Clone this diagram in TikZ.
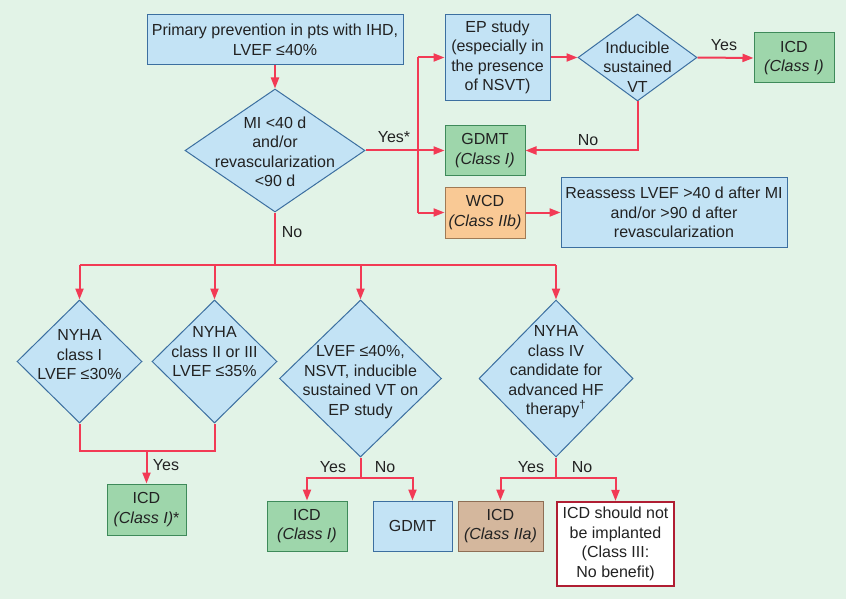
\documentclass[tikz,border=0pt]{standalone}
\usepackage{fontspec}
\setmainfont{Liberation Sans}
\usetikzlibrary{shapes.geometric,arrows.meta}
\definecolor{bgc}{HTML}{E2F3E7}
\definecolor{bluef}{HTML}{C3E3F5}
\definecolor{blued}{HTML}{3C6FA0}
\definecolor{greenf}{HTML}{9ED6AB}
\definecolor{greend}{HTML}{3E8A5A}
\definecolor{orangef}{HTML}{F9C995}
\definecolor{oranged}{HTML}{A07A55}
\definecolor{tanf}{HTML}{D4B79D}
\definecolor{tand}{HTML}{8E6E55}
\definecolor{redl}{HTML}{F23A55}
\definecolor{redd}{HTML}{B01E33}
\definecolor{txt}{HTML}{222222}
\tikzset{
  every node/.style={text=txt, font=\fontsize{16}{19.5}\selectfont},
  box/.style={draw=blued, fill=bluef, line width=1pt, inner sep=0pt, align=center},
  gbox/.style={box, draw=greend, fill=greenf},
  obox/.style={box, draw=oranged, fill=orangef},
  tbox/.style={box, draw=tand, fill=tanf},
  rbox/.style={box, draw=redd, fill=white, line width=2.2pt},
  dia/.style={diamond, draw=blued, fill=bluef, line width=1pt, inner sep=0pt},
  lbl/.style={align=center, inner sep=0pt},
  conn/.style={draw=redl, line width=2pt},
  arr/.style={conn, -{Triangle[length=11pt,width=8pt]}},
}
\begin{document}
\begin{tikzpicture}[x=1pt,y=-1pt]
\fill[bgc] (0,0) rectangle (846,599);
\useasboundingbox (0,0) rectangle (846,599);

% boxes
\node[box, minimum width=256pt, minimum height=50pt] (top) at (275,40) {Primary prevention in pts with IHD,\\LVEF ≤40\%};
\node[box, minimum width=105pt, minimum height=86pt] (ep) at (497.5,57.5) {EP study\\(especially in\\the presence\\of NSVT)};
\node[gbox, minimum width=80pt, minimum height=50pt] (icda) at (794,58) {ICD\\\textit{(Class I)}};
\node[gbox, minimum width=80pt, minimum height=50pt] (gdmta) at (485,150.5) {GDMT\\\textit{(Class I)}};
\node[obox, minimum width=80pt, minimum height=51pt] (wcd) at (485,212.5) {WCD\\\textit{(Class IIb)}};
\node[box, minimum width=226pt, minimum height=70pt] (reas) at (674,212.5) {Reassess LVEF >40 d after MI\\and/or >90 d after\\revascularization};
\node[gbox, minimum width=79pt, minimum height=51pt] (icdb) at (146.5,509.5) {ICD\\\textit{(Class I)}*};
\node[gbox, minimum width=80pt, minimum height=50pt] (icdc) at (307,526) {ICD\\\textit{(Class I)}};
\node[box, minimum width=79pt, minimum height=50pt] (gdmtb) at (412.5,526) {GDMT};
\node[tbox, minimum width=85pt, minimum height=50pt] (icdd) at (500.5,526) {ICD\\\textit{(Class IIa)}};
\node[rbox, minimum width=117pt, minimum height=84pt] (noicd) at (615.5,544) {ICD should not\\be implanted\\(Class III:\\No benefit)};

% diamonds
\node[dia, minimum width=180pt, minimum height=123pt] (d0) at (275,150.5) {};
\node[lbl] at (275,152) {MI <40 d\\and/or\\revascularization\\<90 d};
\node[dia, minimum width=119pt, minimum height=87pt] (d5) at (637.5,57.5) {};
\node[lbl] at (637.5,67) {Inducible\\sustained\\VT};
\node[dia, minimum width=125pt, minimum height=123pt] (d1) at (79.5,361.5) {};
\node[lbl] at (79.5,355) {NYHA\\class I\\LVEF ≤30\%};
\node[dia, minimum width=125pt, minimum height=123pt] (d2) at (214.5,361.5) {};
\node[lbl] at (214.5,352) {NYHA\\class II or III\\LVEF ≤35\%};
\node[dia, minimum width=162pt, minimum height=157pt] (d3) at (360.5,378.5) {};
\node[lbl] at (360.5,382) {LVEF ≤40\%,\\NSVT, inducible\\sustained VT on\\EP study};
\node[dia, minimum width=154pt, minimum height=157pt] (d4) at (556,378.5) {};
\node[lbl] at (556,372) {NYHA\\class IV\\candidate for\\advanced HF\\therapy\textsuperscript{\dag}};

% connectors
\draw[arr] (top) -- (d0);
\coordinate (ya) at (418,57.5);
\coordinate (yb) at (418,212.5);
\draw[conn] (ya) -- (yb);
\draw[arr] (d0.east) -- (gdmta.west);
\draw[arr] (ya) -- (ep.west);
\draw[arr] (yb) -- (wcd.west);
\draw[arr] (ep.east) -- (d5.west);
\draw[arr] (d5.east) -- (icda.west);
\draw[arr] (d5.south) |- (gdmta.east);
\draw[arr] (wcd.east) -- (reas.west);

\coordinate (bus) at (275,265);
\coordinate (busl) at (79.5,265);
\coordinate (busr) at (556,265);
\draw[conn] (d0.south) -- (bus);
\draw[conn] (busl) -- (busr);
\draw[arr] (busl) -- (d1.north);
\draw[arr] (d2.north |- bus) -- (d2.north);
\draw[arr] (d3.north |- bus) -- (d3.north);
\draw[arr] (busr) -- (d4.north);

\coordinate (j1) at (146.5,451);
\draw[conn] (d1.south) |- (j1) -| (d2.south);
\draw[arr] (j1) -- (icdb.north);

\coordinate (j3) at (360.5,478);
\draw[conn] (d3.south) -- (j3);
\draw[arr] (j3) -| (icdc.north);
\draw[arr] (j3) -| (gdmtb.north);

\coordinate (j4) at (556,478);
\draw[conn] (d4.south) -- (j4);
\draw[arr] (j4) -| (icdd.north);
\draw[arr] (j4) -| (noicd.north);

% labels
\node[lbl] at (394,137) {Yes*};
\node[lbl] at (292,232) {No};
\node[lbl] at (724,45) {Yes};
\node[lbl] at (588,140) {No};
\node[lbl] at (166,465) {Yes};
\node[lbl] at (333,467) {Yes};
\node[lbl] at (385,467) {No};
\node[lbl] at (531,467) {Yes};
\node[lbl] at (582,467) {No};
\end{tikzpicture}
\end{document}
